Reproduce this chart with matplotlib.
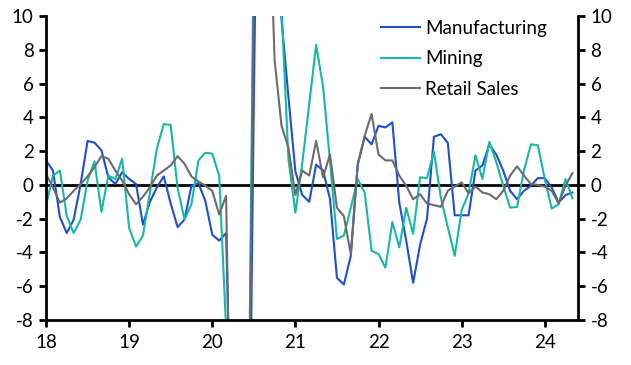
import numpy as np
import matplotlib.pyplot as plt

plt.rcParams['font.family'] = ['Lato', 'DejaVu Sans']
plt.rcParams['axes.unicode_minus'] = False

#%% monthly data, Jan 2018 - May 2024
start_year = 2018
manufacturing = [
    1.45, 0.85, -1.9, -2.85, -2.05, 0.05, 2.6, 2.5, 2.05, 0.45, 0.05, 0.75,
    0.35, 0.05, -2.35, -1.0, -0.15, 0.5, -1.1, -2.5, -2.05, -0.05, 0.1, -0.95,
    -2.95, -3.3, -2.85, -20.0, -30.0, -30.0, 5.0, 35.0, 30.0, 20.0, 9.8, 5.2,
    0.8, -0.6, -1.0, 1.2, 0.85, -0.85, -5.5, -5.9, -4.2, 1.2, 2.85, 2.4,
    3.5, 3.4, 3.7, -1.05, -3.3, -5.8, -3.55, -2.0, 2.85, 3.0, 2.5, -1.8,
    -1.8, -1.8, 0.85, 1.15, 2.4, 1.8, 0.85, -0.35, -0.85, -0.35, -0.05, 0.4,
    0.4, -0.15, -1.05, -0.6, -0.45,
]
mining = [
    -1.25, 0.55, 0.85, -1.85, -2.85, -2.05, 0.25, 1.4, -1.6, 0.55, 0.35, 1.55,
    -2.55, -3.65, -3.0, -0.45, 2.15, 3.6, 3.55, -0.2, -2.05, -1.15, 1.45, 1.9,
    1.85, 0.55, -8.5, -35.0, -20.0, -25.0, 15.0, 40.0, 30.0, 25.0, 10.5, 1.5,
    -1.65, 1.3, 4.8, 8.3, 5.8, 1.4, -3.2, -3.0, -1.35, 0.35, -0.45, -3.9,
    -4.1, -4.9, -2.2, -3.7, -1.35, -2.9, 0.45, 0.4, 1.95, -0.75, -2.5, -4.2,
    -1.5, -0.5, 1.75, 0.35, 2.55, 1.35, -0.05, -1.35, -1.3, 0.85, 2.4, 2.35,
    0.35, -1.4, -1.15, 0.35, -0.8,
]
retail_sales = [
    0.65, -0.15, -1.05, -0.8, -0.35, 0.05, 0.5, 1.05, 1.7, 1.55, 0.85, 0.25,
    -0.55, -1.15, -0.7, -0.15, 0.55, 0.85, 1.15, 1.7, 1.25, 0.5, 0.2, -0.05,
    -0.35, -1.75, -0.65, -25.0, -25.0, -25.0, 12.0, 30.0, 20.0, 7.4, 3.5, 2.2,
    -0.6, 0.85, 0.55, 2.6, 0.45, 1.8, -1.35, -1.85, -4.1, 1.2, 2.9, 4.2,
    1.8, 1.45, 1.45, 0.55, -0.05, -0.85, -0.55, -1.1, -1.2, -1.3, -0.35, -0.1,
    0.15, -0.5, -0.1, -0.45, -0.55, -0.85, -0.35, 0.55, 1.1, 0.55, 0.05, 0.0,
    -0.1, -0.35, -1.1, -0.05, 0.7,
]
series_names = ['Manufacturing', 'Mining', 'Retail Sales']
series_colors = ['#1f4fcf', '#19b8a4', '#6b6b6b']
year_ticks = np.arange(2018, 2025)
year_labels = [str(y)[2:] for y in year_ticks]

x = start_year + np.arange(len(manufacturing)) / 12.0

#%% plot
fig = plt.figure(figsize=(6.31, 3.65), dpi=100)
ax = fig.add_axes([46/631, 1 - 320/365, 532/631, 304/365])

for vals, name, col in zip([manufacturing, mining, retail_sales],
                           series_names, series_colors):
    ax.plot(x, vals, color=col, lw=1.5, label=name)

ax.axhline(0, color='black', lw=2, zorder=1)

ax.set_xlim(2018, 2024.40)
ax.set_ylim(-8, 10)
ax.set_yticks(np.arange(-8, 11, 2))
ax.set_xticks(year_ticks)
ax.set_xticklabels(year_labels)

for side in ['left', 'right', 'bottom']:
    ax.spines[side].set_linewidth(2)
ax.spines['top'].set_visible(False)
ax.tick_params(axis='both', direction='out', width=2, length=5,
               labelsize=13.5, colors='black')
ax.tick_params(axis='y', right=True, labelright=True, pad=4)
ax.tick_params(axis='x', pad=5)

ax.legend(loc='upper left', bbox_to_anchor=(381/631, 1 - 20/365),
          bbox_transform=fig.transFigure, frameon=False,
          borderaxespad=0, borderpad=0,
          fontsize=13.5, handlelength=2.1, handletextpad=0.25,
          labelspacing=0.71)

fig.savefig('out.png', dpi=100)
